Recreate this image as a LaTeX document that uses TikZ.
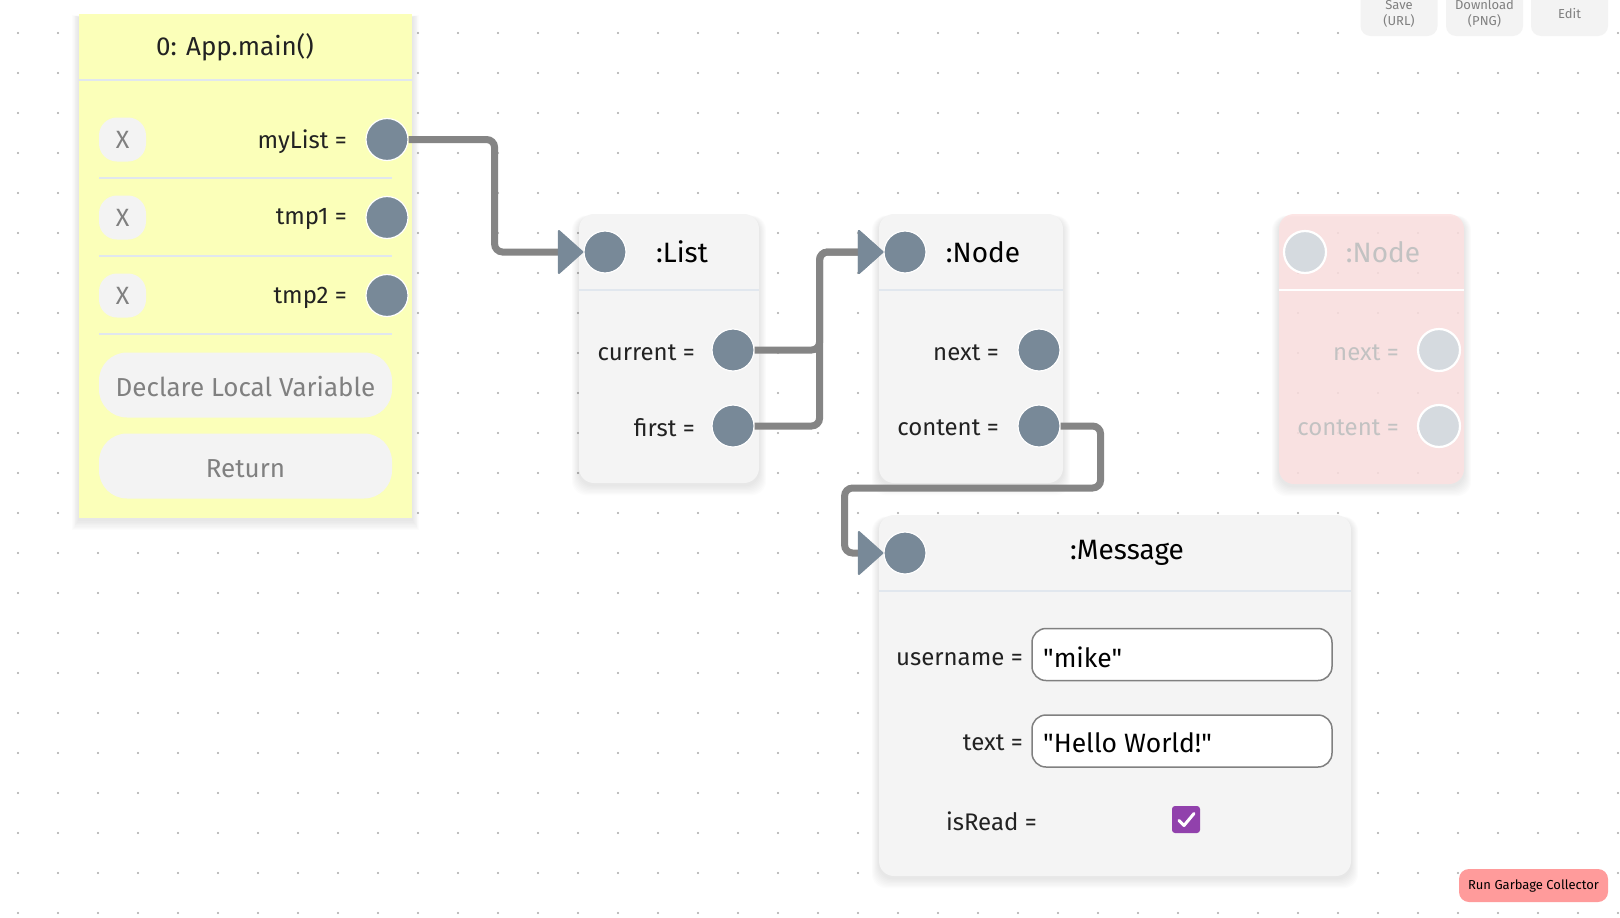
\documentclass[tikz,border=0pt]{standalone}
\usepackage{fontspec}
\setmainfont{Fira Sans}
\newfontfamily\valfont{Fira Sans}[Ligatures=TeXOff]
\usetikzlibrary{arrows.meta,calc}
\definecolor{frameyellow}{HTML}{FBFFB9}
\definecolor{objgray}{HTML}{F4F4F4}
\definecolor{slotc}{HTML}{788998}
\definecolor{sepc}{HTML}{E1E7EE}
\definecolor{btnc}{HTML}{F3F3F3}
\definecolor{btntext}{HTML}{808080}
\definecolor{wirec}{HTML}{858585}
\definecolor{ghostc}{HTML}{FDE1E1}
\definecolor{ghostslot}{HTML}{D5DADF}
\definecolor{ghosttext}{HTML}{C2C2C2}
\definecolor{gcred}{HTML}{FF9B9B}
\definecolor{chkc}{HTML}{9141AC}
\definecolor{dotc}{HTML}{A8A8A8}
\definecolor{labeltext}{HTML}{222222}
\newcommand\myshadow[5]{%
  \foreach \k in {1,...,8}{
    \fill[black, opacity=0.011, rounded corners=#5]
      ($(#1,#2)+(-\k*0.9,3-\k*0.2)$) rectangle ($(#3,#4)+(\k*0.9,2+\k*1.3)$);
  }}
\tikzset{
  slot/.style={circle, fill=slotc, draw=white, line width=1.2pt, minimum size=42pt, inner sep=0pt},
  gslot/.style={circle, fill=ghostslot, draw=white, line width=2.2pt, minimum size=42pt, inner sep=0pt},
  lbl/.style={anchor=east, text=labeltext, font=\fontsize{24}{28}\selectfont, inner sep=0pt, yshift=-2pt},
  glbl/.style={lbl, text=ghosttext},
  ttl/.style={text=black, font=\fontsize{28}{32}\selectfont, inner sep=0pt},
  xbtn/.style={fill=btnc, rounded corners=18pt, minimum width=47pt, minimum height=44pt, inner sep=0pt, text=btntext, font=\fontsize{25}{28}\selectfont},
  bigbtn/.style={fill=btnc, rounded corners=28pt, minimum width=293pt, minimum height=65pt, inner sep=0pt, text=btntext, font=\fontsize{26}{29}\selectfont, text height=23pt, text depth=0pt},
  topbtn/.style={fill=btnc, rounded corners=10pt, minimum width=77pt, minimum height=50pt, inner sep=0pt},
  toptxt/.style={text=btntext, font=\fontsize{13}{16}\selectfont, align=center, inner sep=0pt},
  valbox/.style={draw=btntext, line width=1.5pt, fill=white, rounded corners=14pt, minimum width=300pt, minimum height=52pt, inner sep=0pt},
  val/.style={anchor=west, text=black, font=\valfont\fontsize{26.5}{30}\selectfont, inner sep=0pt},
  wire/.style={draw=wirec, line width=7pt, rounded corners=8pt,
    -{Triangle[length=26pt, width=46pt, line width=2pt, round, color=slotc]}},
  sepline/.style={draw=sepc, line width=1.5pt},
}
\begin{document}
\begin{tikzpicture}[x=1pt,y=-1pt]
\useasboundingbox (0,0) rectangle (1620,918);
\fill[white] (0,0) rectangle (1620,918);
% dot grid
\foreach \i in {0,...,40}{
  \foreach \j in {0,...,22}{
    \fill[dotc] (18+40*\i, 33+40*\j) circle (1.1pt);
  }}
% top-right buttons
\node[topbtn] (save) at (1399,11) {};
\node[toptxt] (savetxt) at (1399,14) {Save\\(URL)};
\node[topbtn] (download) at (1484.5,11) {};
\node[toptxt] (downloadtxt) at (1484.5,14) {Download\\(PNG)};
\node[topbtn] (edit) at (1569.5,11) {};
\node[toptxt] (edittxt) at (1569.5,14) {Edit};
% frame
\myshadow{79}{14}{412}{518}{0pt}
\node[fill=frameyellow, minimum width=333pt, minimum height=504pt, inner sep=0pt] (mainframe) at (245.5,266) {};
\node[ttl, text=labeltext, font=\fontsize{26}{30}\selectfont] (maintitle) at (235,47) {0: App.main()};
\draw[sepline] (79,80) -- (412,80);
% rows
\node[xbtn] (x1) at (122.5,139.5) {X};
\node[lbl] (mylistlbl) at (347,139.5) {myList =};
\node[slot] (mylist) at (387,139.5) {};
\draw[sepline] (99,178) -- (392,178);
\node[xbtn] (x2) at (122.5,217.5) {X};
\node[lbl] (tmp1lbl) at (347,217.5) {tmp1 =};
\node[slot] (tmp1) at (387,217.5) {};
\draw[sepline] (99,256) -- (392,256);
\node[xbtn] (x3) at (122.5,295.5) {X};
\node[lbl] (tmp2lbl) at (347,295.5) {tmp2 =};
\node[slot] (tmp2) at (387,295.5) {};
\draw[sepline] (99,334) -- (392,334);
\node[bigbtn] (declare) at (245.5,385) {Declare Local Variable};
\node[bigbtn] (return) at (245.5,466) {Return};
% List object
\myshadow{579}{214}{759}{483}{15pt}
\node[fill=objgray, rounded corners=15pt, minimum width=180pt, minimum height=269pt, inner sep=0pt] (listobj) at (669,348.5) {};
\draw[sepline] (579,290) -- (759,290);
\node[slot] (listhead) at (605,252) {};
\node[ttl] (listtitle) at (682,252) {:List};
\node[lbl] (currentlbl) at (695,351) {current =};
\node[slot] (current) at (733,350) {};
\node[lbl] (firstlbl) at (695,426) {first =};
\node[slot] (first) at (733,426) {};
% Node object
\myshadow{879}{214}{1063}{483}{15pt}
\node[fill=objgray, rounded corners=15pt, minimum width=184pt, minimum height=269pt, inner sep=0pt] (nodeobj) at (971,348.5) {};
\draw[sepline] (879,290) -- (1063,290);
\node[slot] (nodehead) at (905,252) {};
\node[ttl] (nodetitle) at (983,252) {:Node};
\node[lbl] (nextlbl) at (999,351) {next =};
\node[slot] (next) at (1039,350) {};
\node[lbl] (contentlbl) at (999,426) {content =};
\node[slot] (content) at (1039,426) {};
% Ghost node
\myshadow{1279}{214}{1464}{484}{15pt}
\node[fill=ghostc, fill opacity=0.85, rounded corners=15pt, minimum width=185pt, minimum height=270pt, inner sep=0pt] (ghostobj) at (1371.5,349) {};
\draw[white, line width=2pt] (1279,290) -- (1464,290);
\node[gslot] (ghosthead) at (1305,252) {};
\node[ttl, text=ghosttext] (ghosttitle) at (1383,252) {:Node};
\node[glbl] (gnextlbl) at (1399,351) {next =};
\node[gslot] (gnext) at (1439,350) {};
\node[glbl] (gcontentlbl) at (1399,426) {content =};
\node[gslot] (gcontent) at (1439,426) {};
% Message object
\myshadow{879}{515}{1351}{876}{15pt}
\node[fill=objgray, rounded corners=15pt, minimum width=472pt, minimum height=361pt, inner sep=0pt] (msgobj) at (1115,695.5) {};
\draw[sepline] (879,591) -- (1351,591);
\node[slot] (msghead) at (905,553) {};
\node[ttl] (msgtitle) at (1127,553) {:Message};
\node[lbl] (userlbl) at (1023,657) {username =};
\node[valbox] (userbox) at (1182,654.5) {};
\node[val] (userval) at (1043,657) {"mike"};
\node[lbl] (textlbl) at (1023,741) {text =};
\node[valbox] (textbox) at (1182,741) {};
\node[val] (textval) at (1043,743) {"Hello World!"};
\node[lbl] (isreadlbl) at (1037,819) {isRead =};
\node[fill=chkc, rounded corners=3pt, minimum width=28pt, minimum height=27pt, inner sep=0pt] (chk) at (1186,819.5) {};
\draw[white, line width=3pt, line cap=round, line join=round] ($(chk.center)+(-7,1)$) -- ($(chk.center)+(-2,6)$) -- ($(chk.center)+(8,-6)$);
% GC button
\node[fill=gcred, rounded corners=10pt, minimum width=149pt, minimum height=33pt, inner sep=0pt, font=\fontsize{13}{16}\selectfont, text=black] (gc) at (1533.5,885.5) {Run Garbage Collector};
% wires
\draw[wire] (mylist.east) -- ++(86,0) |- (listhead.west);
\draw[wire] (current.east) -- ++(65,0) |- (nodehead.west);
\draw[wire] (first.east) -- ++(65,0) |- (nodehead.west);
\draw[wire] (content.east) -- ++(40,0) -- ++(0,62) -- ++(-256,0) |- (msghead.west);
\end{tikzpicture}
\end{document}
